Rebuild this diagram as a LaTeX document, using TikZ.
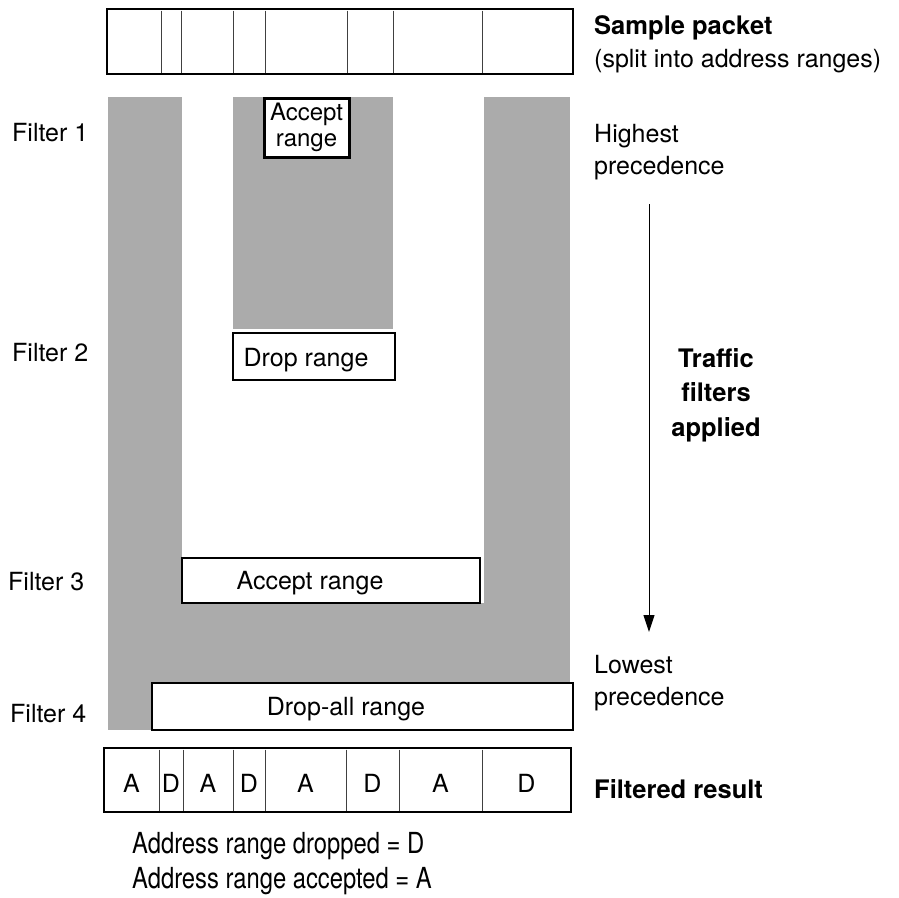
\documentclass[tikz,border=0pt]{standalone}
\usepackage{fontspec}
\setmainfont{TeX Gyre Heros}
\newfontfamily\narrowfont[FakeStretch=0.82]{TeX Gyre Heros}
\usetikzlibrary{arrows.meta}
\begin{document}
\begin{tikzpicture}[x=1pt,y=-1pt,
  shadearea/.style={fill=black!33},
  packet/.style={draw=black, line width=2.4pt, fill=white, inner sep=0pt},
  rangebox/.style={draw=black, line width=2pt, fill=white, inner sep=0pt},
  acceptbox/.style={draw=black, line width=3pt, fill=white, inner sep=0pt},
  divider/.style={draw=black!75, line width=0.9pt},
  txt/.style={font=\fontsize{25}{31.5}\selectfont, inner sep=0pt},
  boldtxt/.style={font=\fontsize{25.5}{34.5}\selectfont\bfseries, inner sep=0pt},
  legendtxt/.style={font=\narrowfont\fontsize{29}{35}\selectfont, inner sep=0pt},
]
\useasboundingbox (0,0) rectangle (899,897);

% grey areas passed through by the filters
\fill[shadearea] (108,97) rectangle (182,730);
\fill[shadearea] (182,603) rectangle (570,683);
\fill[shadearea] (484,97) rectangle (570,683);
\fill[shadearea] (233,97) rectangle (393,329);

% sample packet split into address ranges
\node[packet, minimum width=466pt, minimum height=65pt] (pkt) at (340,41.5) {};
\foreach \x in {161,181,233,265,347,393,482}
  \draw[divider] (\x,10.5) -- (\x,72.5);

% filters
\node[acceptbox, minimum width=85pt, minimum height=59pt] (f1) at (306.5,127.5) {};
\node[txt, align=center, font=\fontsize{24}{26}\selectfont] (f1t) at (306.5,127) {Accept\\range};
\node[rangebox, minimum width=162pt, minimum height=47pt] (f2) at (314,356.5) {};
\node[txt, anchor=base] (f2t) at (306,366) {Drop range};
\node[rangebox, minimum width=298pt, minimum height=45pt] (f3) at (331,580.5) {};
\node[txt, anchor=base] (f3t) at (310,589) {Accept range};
\node[rangebox, minimum width=421pt, minimum height=47pt] (f4) at (362.5,706.5) {};
\node[txt, anchor=base] (f4t) at (346,715) {Drop-all range};

% filtered result
\node[packet, minimum width=467pt, minimum height=64pt] (res) at (337.5,780) {};
\foreach \x in {159,183,233,265,346,399,482}
  \draw[divider] (\x,749.5) -- (\x,810.5);
\foreach \xa/\xb/\l [count=\i] in {104/159/A,159/183/D,183/233/A,233/265/D,265/346/A,346/399/D,399/482/A,482/571/D}
  \node[txt, anchor=base] (r\i) at ({(\xa+\xb)/2},792) {\l};

% filter labels
\node[txt, anchor=base west] (l1) at (12,141) {Filter 1};
\node[txt, anchor=base west] (l2) at (12,361) {Filter 2};
\node[txt, anchor=base west] (l3) at (8,590) {Filter 3};
\node[txt, anchor=base west] (l4) at (10,722) {Filter 4};

% right-hand captions (multi-line nodes are anchored on their last baseline)
\node[boldtxt, anchor=base west] (sp) at (594,34) {Sample packet};
\node[txt, anchor=base west] (sp2) at (594,67) {(split into address ranges)};
\node[txt, anchor=base west, align=left] (hi) at (594,174) {Highest\\precedence};
\node[txt, anchor=base west, align=left] (lo) at (594,705) {Lowest\\precedence};
\node[boldtxt, anchor=base, align=center] (tf) at (716,436) {Traffic\\filters\\applied};
\node[boldtxt, anchor=base west] (fr) at (594,798) {Filtered result};

% precedence arrow
\coordinate (arrTop) at (649,204);
\coordinate (arrBot) at (649,632);
\draw[line width=1pt, -{Triangle[length=17pt,width=11pt]}] (arrTop) -- (arrBot);

% legend
\node[legendtxt, anchor=base west, align=left] (leg) at (132,888) {Address range dropped = D\\Address range accepted = A};
\end{tikzpicture}
\end{document}
